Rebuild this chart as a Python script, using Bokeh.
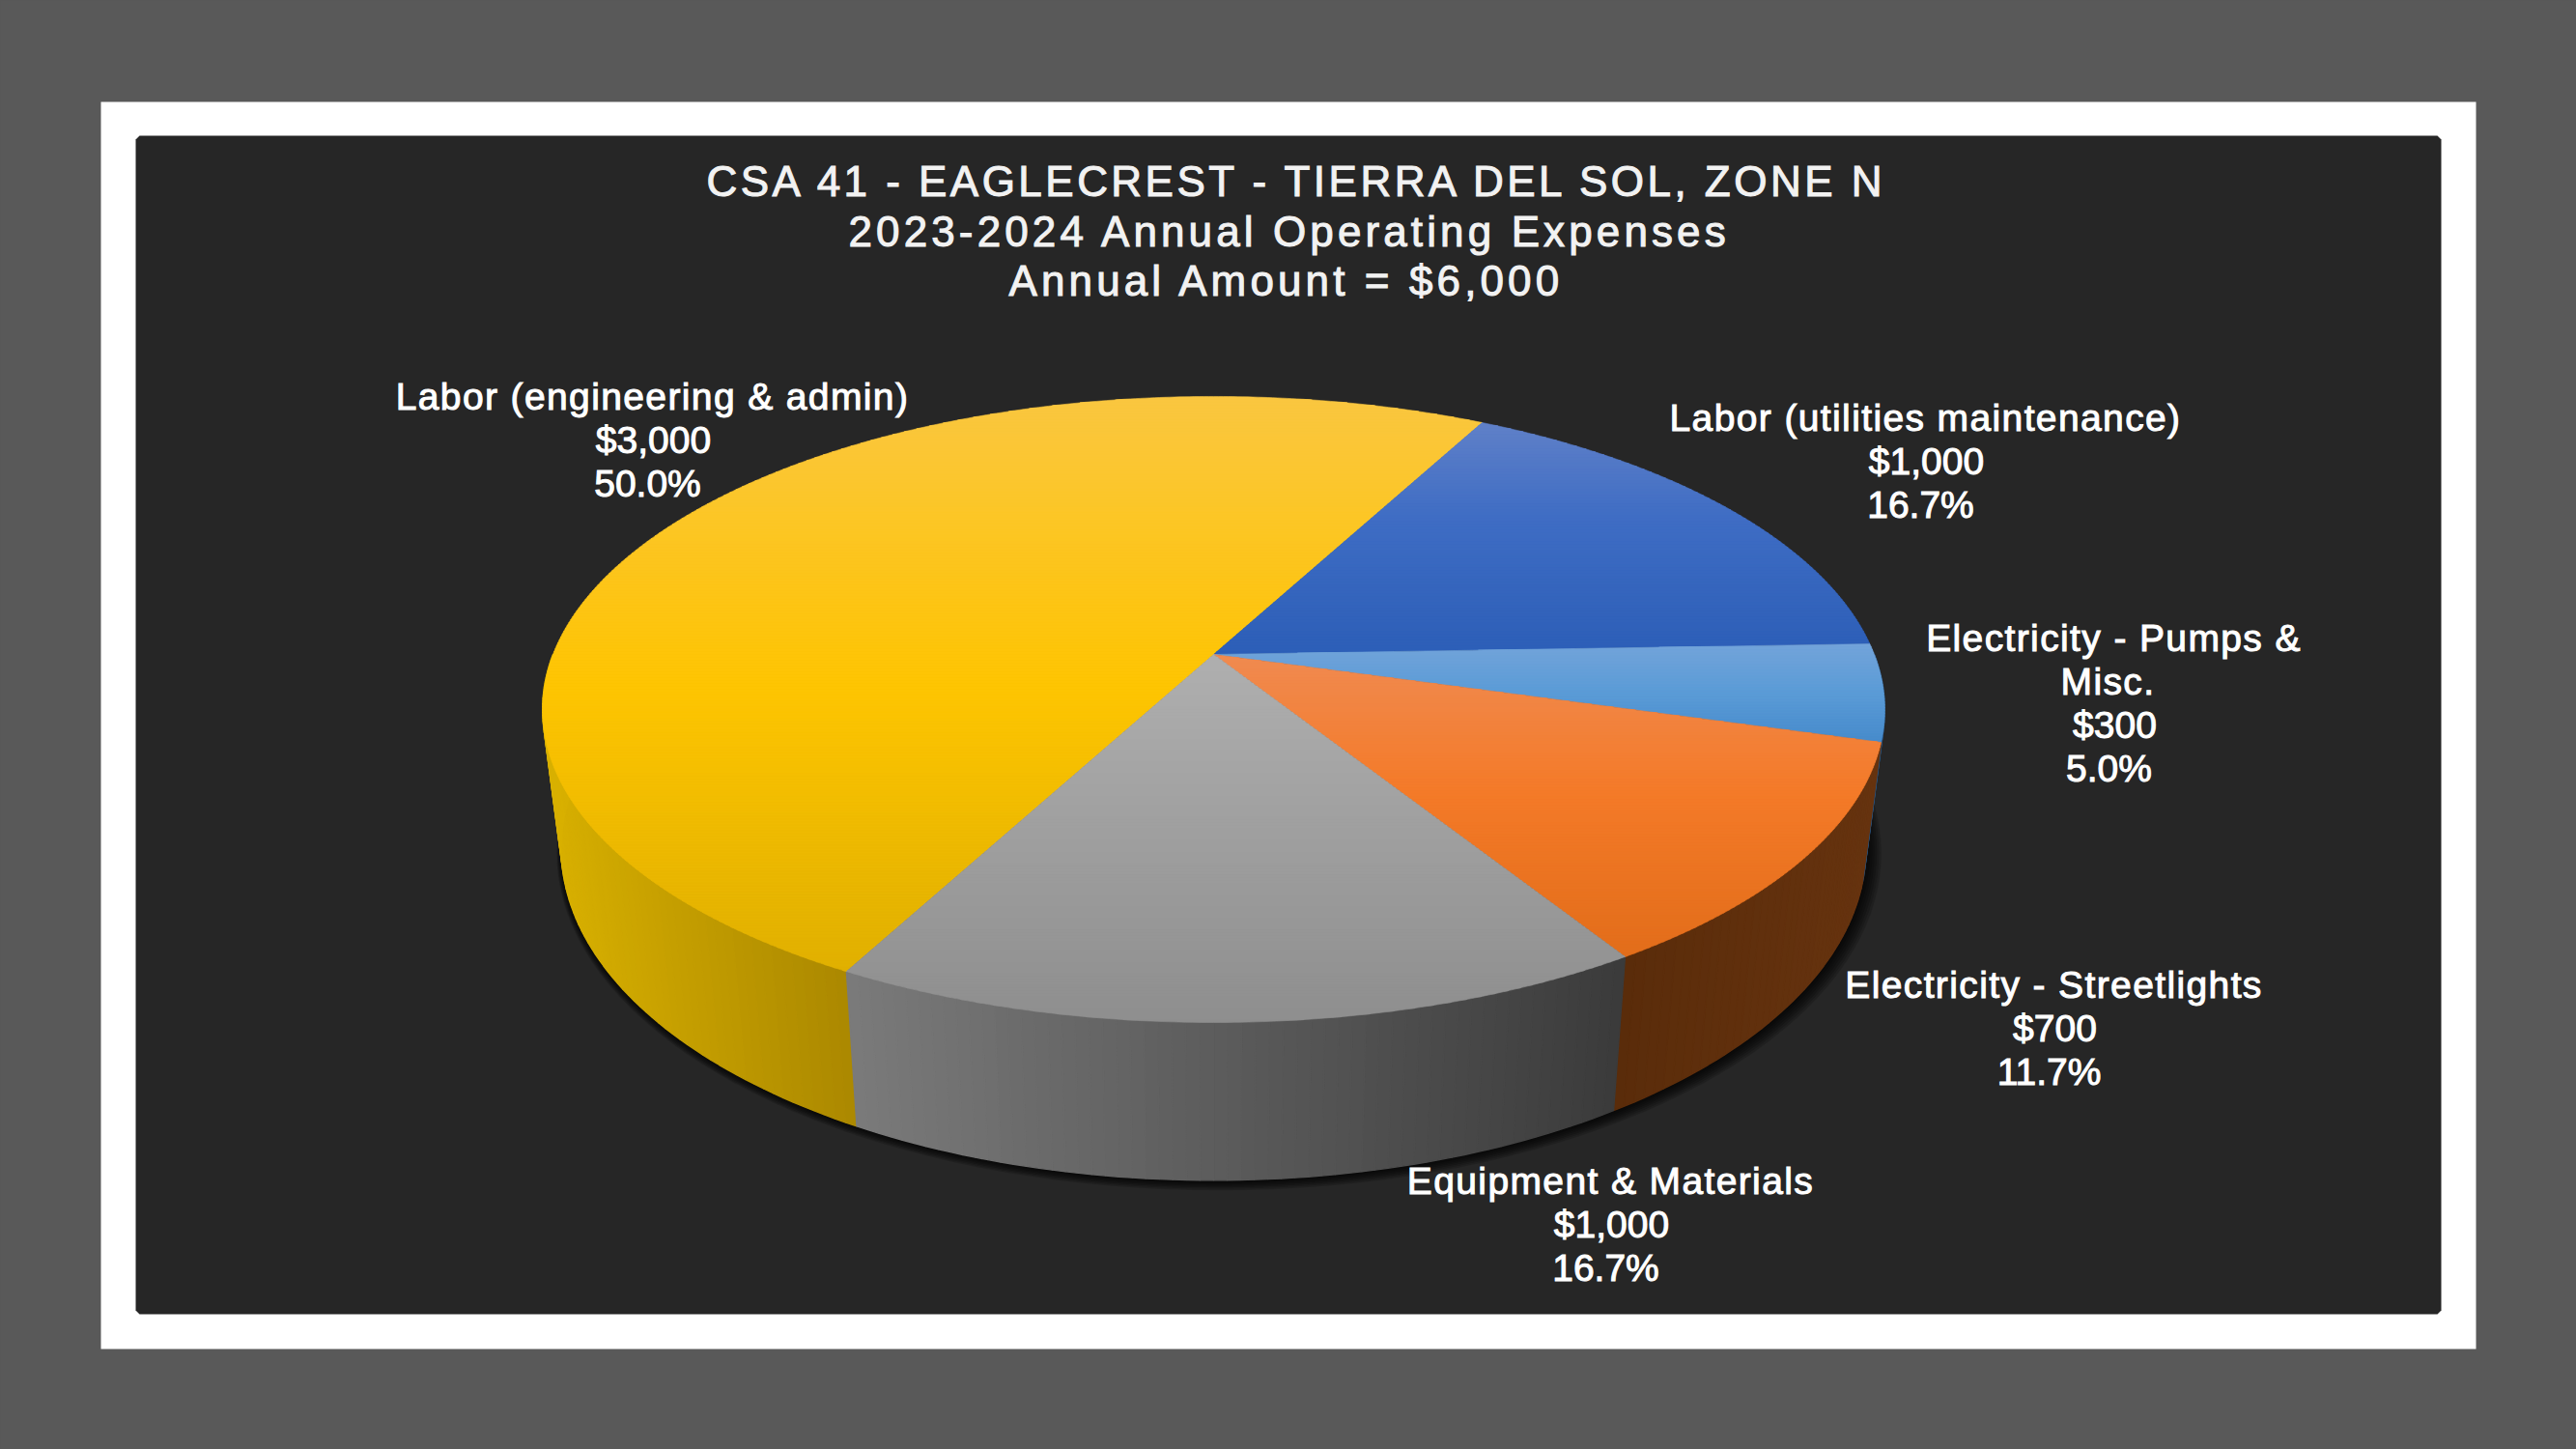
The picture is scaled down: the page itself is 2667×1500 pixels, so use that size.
import math
from bokeh.plotting import figure
from bokeh.layouts import column
from bokeh.embed import file_html
from bokeh.resources import INLINE
from bokeh.core.properties import value

# ---- data ----
categories = ["Labor (engineering & admin)", "Labor (utilities maintenance)",
              "Electricity - Pumps &\nMisc.", "Electricity - Streetlights",
              "Equipment & Materials"]
amounts = [3000, 1000, 300, 700, 1000]
title_lines = ["CSA 41 - EAGLECREST - TIERRA DEL SOL, ZONE N",
               "2023-2024 Annual Operating Expenses",
               "Annual Amount = $6,000"]

# ---- styles ----
top_stops = [
    [(0, "#FAC640"), (.5, "#FEC502"), (1, "#E0B000")],
    [(0, "#5F80C8"), (.4, "#3F6DC4"), (1, "#2C5EB7")],
    [(0, "#72A3DA"), (.5, "#5A9BD6"), (1, "#468ACB")],
    [(0, "#F08A50"), (.45, "#F47A28"), (1, "#E26D1A")],
    [(0, "#AFAFAF"), (1, "#8E8E8E")],
]
wall_stops = [
    [(0, "#D8B000"), (1, "#AB8800")],
    [(0, "#25406F"), (1, "#25406F")],
    [(0, "#2A5078"), (1, "#2A5078")],
    [(0, "#5A2C0A"), (1, "#66330F")],
    [(0, "#7A7A7A"), (1, "#3B3B3B")],
]
W, H = 2667, 1500
CX, CY, A, B, P = 1256.0, 677.0, 684.0, 314.0, 0.1758
LOW_SX, LOW_SY, LOW_CY = 0.972, 1.06, 817.5
START = 208.0
FONT = value("Liberation Sans")


def rgb(h):
    return tuple(int(h[i:i + 2], 16) for i in (1, 3, 5))


def ramp(stops, t):
    t = max(0.0, min(1.0, t))
    for (t0, c0), (t1, c1) in zip(stops, stops[1:]):
        if t <= t1:
            f = (t - t0) / (t1 - t0)
            a, b = rgb(c0), rgb(c1)
            return "#%02x%02x%02x" % tuple(round(a[i] + (b[i] - a[i]) * f) for i in range(3))
    return stops[-1][1]


def top_pt(deg):
    r = math.radians(deg)
    u, v = math.sin(r), math.cos(r)
    k = 1 + P * v
    return CX + A * u / k, CY - B * v / k


def low_pt(deg):
    x, y = top_pt(deg)
    return CX + LOW_SX * (x - CX), LOW_CY + LOW_SY * (y - CY)


def clip_band(poly, y0, y1):
    def clip(pts, inside, yb):
        out = []
        for i in range(len(pts)):
            a, b = pts[i], pts[(i + 1) % len(pts)]
            ia, ib = inside(a[1]), inside(b[1])
            if ia:
                out.append(a)
            if ia != ib:
                f = (yb - a[1]) / (b[1] - a[1])
                out.append((a[0] + (b[0] - a[0]) * f, yb))
        return out
    pts = clip(poly, lambda y: y >= y0, y0)
    if pts:
        pts = clip(pts, lambda y: y <= y1, y1)
    return pts


total = sum(amounts)
spans = []
acc = START
for amt in amounts:
    sweep = 360.0 * amt / total
    spans.append((acc, acc + sweep))
    acc += sweep

wall_x, wall_y, wall_c = [], [], []
top_x, top_y, top_c = [], [], []
for (a0, a1), ts, ws in zip(spans, top_stops, wall_stops):
    # side wall: only the near half of the rim can show
    ranges = [(max(a0, 90), min(a1, 270)), (max(a0 - 360, 90), min(a1 - 360, 270))]
    for r0, r1 in ranges:
        if r1 <= r0:
            continue
        n = max(1, int(math.ceil(r1 - r0)))
        angs = [r0 + (r1 - r0) * i / n for i in range(n + 1)]
        xs_all = [low_pt(a)[0] for a in angs]
        lo, hi = min(xs_all), max(xs_all)
        for a, b in zip(angs, angs[1:]):
            t1, t2, l2, l1 = top_pt(a), top_pt(b), low_pt(b), low_pt(a)
            wall_x.append([t1[0], t2[0], l2[0], l1[0]])
            wall_y.append([t1[1], t2[1], l2[1], l1[1]])
            wall_c.append(ramp(ws, ((l1[0] + l2[0]) / 2 - lo) / max(hi - lo, 1)))
    # top face: convex wedge, cut in horizontal bands for the gradient
    n = max(2, int(a1 - a0) * 2)
    poly = [(CX, CY)] + [top_pt(a0 + (a1 - a0) * i / n) for i in range(n + 1)]
    ymin, ymax = min(p[1] for p in poly), max(p[1] for p in poly)
    y = ymin
    while y < ymax:
        band = clip_band(poly, y, y + 3.5)
        if len(band) >= 3:
            top_x.append([p[0] for p in band])
            top_y.append([p[1] for p in band])
            top_c.append(ramp(ts, (y - ymin) / (ymax - ymin)))
        y += 3

# soft shadow under the lower rim
shadow_layers = []
for k in range(1, 8):
    s = 1 + 0.0022 * k
    pts = [low_pt(i * 2) for i in range(180)]
    shadow_layers.append(([CX + k * 0.8 + s * (p[0] - CX) for p in pts],
                          [LOW_CY + k * 0.6 + s * (p[1] - LOW_CY) for p in pts]))

main = figure(width=W, height=H, x_range=(0, W), y_range=(H, 0), output_backend="svg",
              toolbar_location=None, min_border=0, background_fill_color="#595959",
              border_fill_color="#595959", outline_line_color=None)
main.axis.visible = False
main.grid.visible = False
main.quad(left=104, right=2563, top=105, bottom=1396, fill_color="#FFFFFF", line_color=None)
c = 4
L, R, T, Bt = 140, 2527, 140, 1360
main.patch([L + c, R - c, R, R, R - c, L + c, L, L], [T, T, T + c, Bt - c, Bt, Bt, Bt - c, T + c],
           fill_color="#262626", line_color=None)
for xs, ys in shadow_layers:
    main.patch(xs, ys, fill_color="#000000", fill_alpha=0.16, line_color=None)
main.patches(wall_x, wall_y, fill_color=wall_c, line_color=wall_c, line_width=1.4)
main.patches(top_x, top_y, fill_color=top_c, line_color=top_c, line_width=0.6)


def overlay(spacing):
    """A transparent sheet over the chart whose texts carry their own tracking."""
    fig = figure(width=W, height=H, x_range=(0, W), y_range=(H, 0), output_backend="svg",
                 toolbar_location=None, min_border=0, background_fill_alpha=0,
                 border_fill_alpha=0, outline_line_color=None)
    fig.axis.visible = False
    fig.grid.visible = False
    fig.styles = {"position": "absolute", "left": "0px", "top": "0px", "letter-spacing": f"{spacing}px"}
    return fig


def title_text(fig, xs, ys, lines):
    fig.text(x=xs, y=ys, text=lines, text_color="#F2F2F2", text_outline_color="#F2F2F2",
             text_font=FONT, text_font_size="44px", text_align="left", text_baseline="middle")


head1 = overlay(3.47)
title_text(head1, [731], [187], title_lines[:1])
head2 = overlay(4.12)
title_text(head2, [878, 1044], [239, 290], title_lines[1:])

# label block centres on the page
label_x = [675, 1993, 2188, 2126, 1667]
label_y = [410, 432, 660, 1019, 1222]
LINE = 45
PCT_SHIFT = -6
NAME_TRACK = 1.38
names = overlay(NAME_TRACK)
nx, ny, nt = [], [], []
vx, vy, vt = [], [], []
for name, amt, lx, ly in zip(categories, amounts, label_x, label_y):
    parts = name.split("\n")
    for i, line in enumerate(parts):
        nudge = PCT_SHIFT if i > 0 else 0
        nx.append(lx + nudge - len(line) * NAME_TRACK / 2)
        ny.append(ly + i * LINE)
        nt.append(line)
    for i, line in enumerate([f"${amt:,}", f"{amt / total:.1%}"]):
        vx.append(lx + (PCT_SHIFT if i == 1 else 0) + 1)
        vy.append(ly + (len(parts) + i) * LINE)
        vt.append(line)
names.text(x=nx, y=ny, text=nt, text_color="#FFFFFF", text_outline_color="#FFFFFF", text_font=FONT,
           text_font_size="39px", text_align="center", text_baseline="middle")
main.text(x=vx, y=vy, text=vt, text_color="#FFFFFF", text_outline_color="#FFFFFF", text_font=FONT,
          text_font_size="39px", text_align="center", text_baseline="middle")

page = column(main, head1, head2, names, spacing=0)
html = file_html(page, INLINE)
html = html.replace("</head>", "<style>html,body{margin:0;padding:0;background:#595959;overflow:hidden}</style></head>", 1)
open("out.html", "w").write(html)
